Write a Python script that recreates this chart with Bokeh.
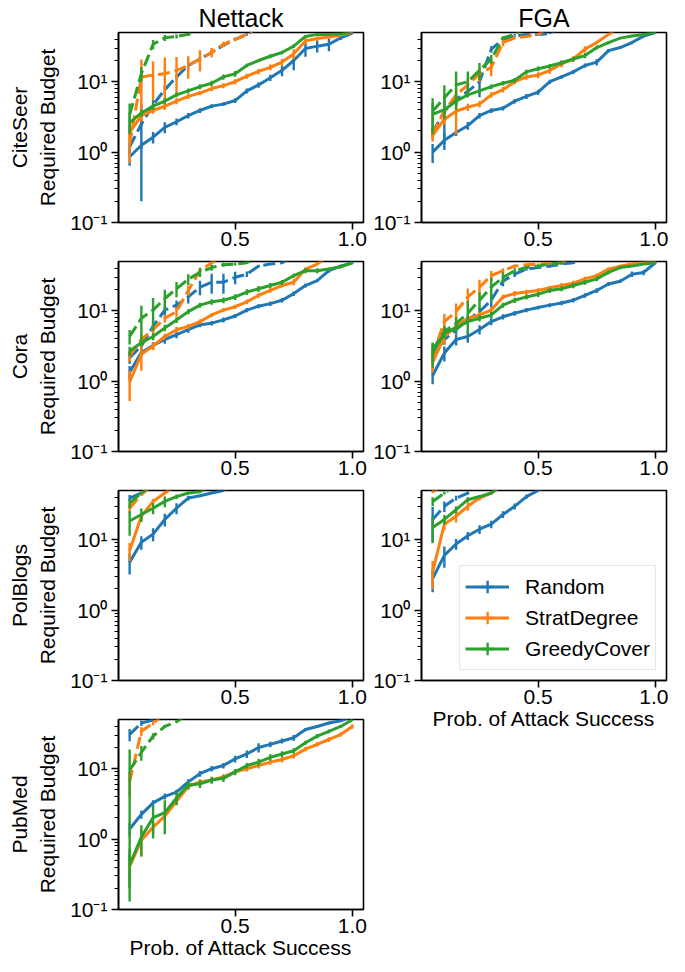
from bokeh.plotting import figure
from bokeh.models import (ColumnDataSource, Range1d, FixedTicker, CustomJSTickFormatter,
                          Title, Legend, LegendItem)
from bokeh.layouts import row, column
from bokeh.embed import file_html
from bokeh.resources import INLINE

# ---------------- data ----------------
x_success = [0.05, 0.10, 0.15, 0.20, 0.25, 0.30, 0.35, 0.40, 0.45, 0.50,
             0.55, 0.60, 0.65, 0.70, 0.75, 0.80, 0.85, 0.90, 0.95, 1.00]
methods = ["Random", "StratDegree", "GreedyCover"]
colors = ["#1f77b4", "#ff7f0e", "#2ca02c"]
datasets = ["CiteSeer", "Cora", "PolBlogs", "PubMed"]
attacks = ["Nettack", "FGA"]
y_tick_values = [0.1, 1, 10]
y_tick_labels = ["10\u207b\u00b9", "10\u2070", "10\u00b9"]
y_minor_ticks = [0.2, 0.3, 0.4, 0.5, 0.6, 0.7, 0.8, 0.9,
                 2, 3, 4, 5, 6, 7, 8, 9, 20, 30, 40]
x_tick_values = [0.5, 1.0]
x_tick_labels = ["0.5", "1.0"]
y_label = "Required Budget"
x_label = "Prob. of Attack Success"

# values above the top of the axis (50) run off the chart
# CiteSeer - Nettack  (solid / dashed, with error half-widths)
cs_nt_rand = [0.86, 1.25, 1.63, 2.25, 2.7, 3.3, 3.9, 4.5, 4.8, 5.4, 7.4, 9.0, 11.4, 14.5, 20.0, 29.6, 32.0, 34.0, 42.0, 49.0]
cs_nt_rand_err = [0.22, 0.15, 0.3, 0.4, 0.3, 0.3, 0.3, 0.3, 0.3, 0.4, 0.6, 0.8, 1.2, 2.5, 5.5, 7.0, 6.0, 7.0, 3.0, 1.0]
cs_nt_rand_d = [1.19, 2.5, 4.7, 7.7, 11.7, 17.0, 21.0, 26.0, 33.0, 40.0, 47.0, 60.0, 60.0, 60.0, 60.0, 60.0, 60.0, 60.0, 60.0, 60.0]
cs_nt_rand_d_err = [0.2, 2.3, 0.8, 1.0, 1.0, 1.5, 2.0, 2.0, 2.0, 2.0, 2.0, 0, 0, 0, 0, 0, 0, 0, 0, 0]
cs_nt_strat = [1.91, 3.3, 3.9, 4.5, 5.3, 6.2, 6.9, 8.0, 8.8, 10.0, 12.0, 14.0, 16.0, 19.0, 25.0, 38.0, 41.0, 43.0, 46.0, 50.0]
cs_nt_strat_err = [0.5, 0.3, 0.4, 0.5, 0.5, 0.5, 0.5, 0.6, 0.7, 0.8, 1.0, 1.2, 1.5, 2.0, 4.0, 4.0, 3.0, 2.0, 1.0, 0.5]
cs_nt_strat_d = [1.3, 11.7, 12.4, 13.0, 14.5, 17.0, 21.0, 26.0, 34.0, 40.0, 47.0, 60.0, 60.0, 60.0, 60.0, 60.0, 60.0, 60.0, 60.0, 60.0]
cs_nt_strat_d_err = [0.6, 9.0, 7.0, 9.0, 8.0, 6.0, 7.0, 4.0, 3.0, 2.0, 1.0, 0, 0, 0, 0, 0, 0, 0, 0, 0]
cs_nt_greedy = [2.6, 3.6, 4.5, 5.3, 6.5, 7.4, 8.5, 9.5, 11.7, 13.0, 17.0, 20.0, 23.0, 26.0, 32.0, 44.0, 47.0, 47.0, 48.0, 50.0]
cs_nt_greedy_err = [0.8, 0.4, 0.5, 0.5, 0.5, 0.6, 0.7, 0.8, 1.0, 1.2, 1.0, 1.0, 1.5, 1.5, 2.0, 2.0, 1.0, 1.0, 1.0, 0.5]
cs_nt_greedy_d = [3.4, 13.0, 34.0, 42.0, 44.0, 47.0, 60.0, 60.0, 60.0, 60.0, 60.0, 60.0, 60.0, 60.0, 60.0, 60.0, 60.0, 60.0, 60.0, 60.0]
cs_nt_greedy_d_err = [1.5, 3.0, 5.0, 4.0, 3.0, 2.0, 0, 0, 0, 0, 0, 0, 0, 0, 0, 0, 0, 0, 0, 0]

# CiteSeer - FGA
cs_fga_rand = [1.0, 1.47, 1.9, 2.37, 3.3, 3.9, 4.2, 5.3, 6.2, 7.1, 10.0, 11.7, 13.8, 17.0, 19.0, 27.6, 30.6, 36.0, 44.5, 50.0]
cs_fga_rand_err = [0.3, 0.4, 0.2, 0.3, 0.3, 0.3, 0.3, 0.4, 0.5, 0.6, 0.7, 0.7, 0.9, 1.2, 2.0, 1.5, 1.5, 2.0, 2.0, 0.5]
cs_fga_rand_d = [1.9, 3.8, 5.6, 7.3, 10.0, 29.0, 40.0, 44.6, 47.0, 47.0, 48.5, 60.0, 60.0, 60.0, 60.0, 60.0, 60.0, 60.0, 60.0, 60.0]
cs_fga_rand_d_err = [0.3, 2.5, 1.0, 1.0, 4.0, 3.0, 2.0, 1.0, 1.0, 1.0, 1.0, 0, 0, 0, 0, 0, 0, 0, 0, 0]
cs_fga_strat = [1.72, 2.94, 3.8, 4.35, 4.8, 6.5, 7.7, 10.0, 11.7, 12.4, 14.5, 18.0, 21.0, 29.0, 36.0, 47.0, 60.0, 60.0, 60.0, 60.0]
cs_fga_strat_err = [0.3, 0.5, 2.0, 0.5, 0.5, 0.6, 0.7, 0.8, 1.0, 1.2, 1.5, 2.0, 2.0, 3.0, 2.0, 1.0, 0, 0, 0, 0]
cs_fga_strat_d = [1.8, 3.8, 6.5, 9.0, 13.0, 16.0, 36.0, 42.0, 44.0, 47.0, 60.0, 60.0, 60.0, 60.0, 60.0, 60.0, 60.0, 60.0, 60.0, 60.0]
cs_fga_strat_d_err = [0.3, 1.0, 1.5, 2.0, 3.0, 4.0, 4.0, 2.0, 1.0, 1.0, 0, 0, 0, 0, 0, 0, 0, 0, 0, 0]
cs_fga_greedy = [3.44, 4.0, 5.3, 6.5, 7.4, 8.5, 9.5, 10.5, 13.8, 15.3, 16.7, 18.6, 21.0, 23.5, 30.6, 36.0, 41.6, 44.6, 47.0, 50.0]
cs_fga_greedy_err = [1.5, 0.5, 0.5, 0.5, 0.6, 0.6, 0.7, 0.8, 1.0, 1.2, 1.2, 1.4, 1.5, 2.0, 2.0, 2.0, 1.5, 1.0, 1.0, 0.5]
cs_fga_greedy_d = [3.8, 5.9, 9.0, 10.0, 14.5, 21.0, 42.0, 47.0, 60.0, 60.0, 60.0, 60.0, 60.0, 60.0, 60.0, 60.0, 60.0, 60.0, 60.0, 60.0]
cs_fga_greedy_d_err = [2.0, 3.0, 5.0, 4.0, 4.0, 3.0, 2.0, 1.0, 0, 0, 0, 0, 0, 0, 0, 0, 0, 0, 0, 0]

# Cora - Nettack
co_nt_rand = [1.34, 2.54, 3.2, 3.9, 4.57, 5.37, 6.3, 6.65, 7.4, 8.4, 10.2, 11.6, 12.6, 14.1, 17.5, 22.8, 26.8, 37.0, 43.0, 48.0]
co_nt_rand_err = [0.3, 0.3, 0.4, 0.5, 0.5, 0.5, 0.5, 0.5, 0.6, 0.6, 0.7, 0.8, 0.9, 1.0, 1.3, 1.5, 1.5, 2.0, 2.0, 1.0]
co_nt_rand_d = [2.16, 3.15, 6.0, 10.2, 12.0, 15.7, 21.6, 25.4, 25.4, 29.8, 33.0, 43.0, 46.0, 48.0, 60.0, 60.0, 60.0, 60.0, 60.0, 60.0]
co_nt_rand_d_err = [0.4, 0.6, 1.0, 1.5, 2.0, 3.0, 5.0, 8.0, 8.0, 6.0, 3.0, 2.0, 1.0, 1.0, 0, 0, 0, 0, 0, 0]
co_nt_strat = [0.97, 2.4, 3.15, 4.3, 5.37, 6.0, 7.0, 8.7, 10.2, 11.4, 13.4, 16.5, 19.4, 22.8, 25.4, 39.0, 46.0, 60.0, 60.0, 60.0]
co_nt_strat_err = [0.45, 1.0, 0.4, 0.4, 0.5, 0.5, 0.5, 0.6, 0.7, 0.8, 1.0, 1.2, 1.4, 1.5, 2.5, 2.0, 1.0, 0, 0, 0]
co_nt_strat_d = [2.28, 3.9, 5.4, 7.8, 9.7, 19.4, 37.0, 48.0, 60.0, 60.0, 60.0, 60.0, 60.0, 60.0, 60.0, 60.0, 60.0, 60.0, 60.0, 60.0]
co_nt_strat_d_err = [0.4, 0.6, 0.8, 1.0, 1.5, 3.0, 4.0, 2.0, 0, 0, 0, 0, 0, 0, 0, 0, 0, 0, 0, 0]
co_nt_greedy = [2.68, 3.5, 4.3, 5.7, 7.4, 9.7, 12.0, 13.4, 14.1, 15.7, 18.4, 20.5, 22.8, 25.4, 31.5, 37.0, 37.0, 39.0, 42.0, 48.0]
co_nt_greedy_err = [0.4, 0.4, 0.5, 0.6, 0.7, 0.8, 1.0, 1.2, 1.3, 1.5, 1.7, 2.0, 2.0, 2.0, 2.0, 3.0, 3.0, 2.0, 2.0, 1.0]
co_nt_greedy_d = [4.3, 7.8, 10.2, 14.9, 20.5, 28.0, 35.0, 41.0, 45.0, 46.0, 48.0, 60.0, 60.0, 60.0, 60.0, 60.0, 60.0, 60.0, 60.0, 60.0]
co_nt_greedy_d_err = [1.0, 4.0, 5.0, 5.0, 5.0, 5.0, 5.0, 4.0, 3.0, 2.0, 1.0, 0, 0, 0, 0, 0, 0, 0, 0, 0]

# Cora - FGA
co_fga_rand = [1.2, 2.5, 3.9, 4.3, 5.4, 7.0, 8.2, 9.2, 10.2, 11.1, 12.0, 12.9, 14.1, 16.5, 19.4, 24.0, 26.2, 33.0, 35.0, 48.0]
co_fga_rand_err = [0.3, 0.6, 0.7, 0.8, 0.8, 0.8, 0.7, 0.7, 0.7, 0.7, 0.8, 0.9, 1.0, 1.2, 1.5, 1.5, 1.5, 3.0, 3.0, 1.0]
co_fga_rand_d = [2.05, 3.9, 5.4, 7.4, 9.7, 14.1, 26.3, 33.0, 39.0, 41.0, 43.0, 46.0, 48.0, 60.0, 60.0, 60.0, 60.0, 60.0, 60.0, 60.0]
co_fga_rand_d_err = [0.3, 0.6, 0.8, 1.0, 1.5, 3.0, 4.0, 3.0, 2.0, 2.0, 2.0, 1.0, 1.0, 0, 0, 0, 0, 0, 0, 0]
co_fga_strat = [1.84, 4.3, 6.0, 7.8, 8.7, 10.2, 15.7, 17.5, 18.4, 19.4, 21.2, 22.8, 24.6, 28.3, 31.5, 39.0, 43.0, 46.0, 48.0, 50.0]
co_fga_strat_err = [0.5, 1.0, 0.8, 0.8, 0.8, 1.0, 1.2, 1.5, 1.5, 1.5, 1.5, 2.0, 2.0, 2.0, 2.0, 2.0, 2.0, 1.0, 1.0, 0.5]
co_fga_strat_d = [2.3, 7.0, 9.7, 15.7, 21.6, 31.5, 37.0, 43.0, 45.0, 46.0, 47.0, 48.0, 60.0, 60.0, 60.0, 60.0, 60.0, 60.0, 60.0, 60.0]
co_fga_strat_d_err = [0.5, 2.0, 3.0, 5.0, 6.0, 5.0, 3.0, 2.0, 1.0, 1.0, 1.0, 1.0, 0, 0, 0, 0, 0, 0, 0, 0]
co_fga_greedy = [2.54, 4.8, 5.7, 7.0, 7.8, 8.7, 12.0, 14.1, 15.7, 17.1, 19.4, 20.5, 22.8, 25.4, 28.3, 35.0, 41.0, 43.0, 46.0, 48.0]
co_fga_greedy_err = [1.0, 0.8, 0.8, 0.8, 0.8, 0.9, 1.0, 1.2, 1.3, 1.4, 1.5, 1.6, 2.0, 2.0, 2.0, 2.0, 2.0, 1.0, 1.0, 1.0]
co_fga_greedy_d = [2.8, 5.1, 6.6, 9.2, 14.1, 21.6, 29.8, 37.0, 41.0, 43.0, 46.0, 48.0, 60.0, 60.0, 60.0, 60.0, 60.0, 60.0, 60.0, 60.0]
co_fga_greedy_d_err = [0.6, 1.0, 1.5, 4.5, 4.0, 8.0, 5.0, 3.0, 2.0, 2.0, 1.0, 1.0, 0, 0, 0, 0, 0, 0, 0, 0]

# PolBlogs - Nettack
pb_nt_rand = [4.8, 9.2, 12.0, 19.4, 28.0, 39.0, 42.0, 46.0, 50.0, 60.0, 60.0, 60.0, 60.0, 60.0, 60.0, 60.0, 60.0, 60.0, 60.0, 60.0]
pb_nt_rand_err = [1.6, 2.0, 2.5, 4.0, 5.0, 3.0, 2.0, 1.0, 0, 0, 0, 0, 0, 0, 0, 0, 0, 0, 0, 0]
pb_nt_rand_d = [39.0, 46.0, 60.0, 60.0, 60.0, 60.0, 60.0, 60.0, 60.0, 60.0, 60.0, 60.0, 60.0, 60.0, 60.0, 60.0, 60.0, 60.0, 60.0, 60.0]
pb_nt_rand_d_err = [4.0, 2.0, 0, 0, 0, 0, 0, 0, 0, 0, 0, 0, 0, 0, 0, 0, 0, 0, 0, 0]
pb_nt_strat = [7.0, 21.6, 35.0, 46.0, 60.0, 60.0, 60.0, 60.0, 60.0, 60.0, 60.0, 60.0, 60.0, 60.0, 60.0, 60.0, 60.0, 60.0, 60.0, 60.0]
pb_nt_strat_err = [2.0, 3.0, 3.0, 2.0, 0, 0, 0, 0, 0, 0, 0, 0, 0, 0, 0, 0, 0, 0, 0, 0]
pb_nt_strat_d = [28.0, 44.0, 60.0, 60.0, 60.0, 60.0, 60.0, 60.0, 60.0, 60.0, 60.0, 60.0, 60.0, 60.0, 60.0, 60.0, 60.0, 60.0, 60.0, 60.0]
pb_nt_strat_d_err = [4.0, 2.0, 0, 0, 0, 0, 0, 0, 0, 0, 0, 0, 0, 0, 0, 0, 0, 0, 0, 0]
pb_nt_greedy = [18.4, 22.8, 28.0, 35.0, 41.0, 46.0, 48.0, 60.0, 60.0, 60.0, 60.0, 60.0, 60.0, 60.0, 60.0, 60.0, 60.0, 60.0, 60.0, 60.0]
pb_nt_greedy_err = [7.0, 5.0, 5.0, 6.0, 3.0, 2.0, 1.0, 0, 0, 0, 0, 0, 0, 0, 0, 0, 0, 0, 0, 0]
pb_nt_greedy_d = [33.0, 46.0, 60.0, 60.0, 60.0, 60.0, 60.0, 60.0, 60.0, 60.0, 60.0, 60.0, 60.0, 60.0, 60.0, 60.0, 60.0, 60.0, 60.0, 60.0]
pb_nt_greedy_d_err = [5.0, 2.0, 0, 0, 0, 0, 0, 0, 0, 0, 0, 0, 0, 0, 0, 0, 0, 0, 0, 0]

# PolBlogs - FGA
pb_fga_rand = [2.8, 6.0, 8.7, 11.4, 14.1, 16.6, 22.8, 29.8, 41.0, 50.0, 60.0, 60.0, 60.0, 60.0, 60.0, 60.0, 60.0, 60.0, 60.0, 60.0]
pb_fga_rand_err = [1.0, 2.0, 1.5, 1.5, 2.0, 2.0, 2.5, 3.0, 3.0, 0, 0, 0, 0, 0, 0, 0, 0, 0, 0, 0]
pb_fga_rand_d = [19.4, 29.8, 39.0, 46.0, 60.0, 60.0, 60.0, 60.0, 60.0, 60.0, 60.0, 60.0, 60.0, 60.0, 60.0, 60.0, 60.0, 60.0, 60.0, 60.0]
pb_fga_rand_d_err = [10.0, 5.0, 3.0, 2.0, 0, 0, 0, 0, 0, 0, 0, 0, 0, 0, 0, 0, 0, 0, 0, 0]
pb_fga_strat = [3.5, 16.6, 21.6, 29.8, 39.0, 46.0, 60.0, 60.0, 60.0, 60.0, 60.0, 60.0, 60.0, 60.0, 60.0, 60.0, 60.0, 60.0, 60.0, 60.0]
pb_fga_strat_err = [1.5, 3.0, 4.0, 4.0, 3.0, 2.0, 0, 0, 0, 0, 0, 0, 0, 0, 0, 0, 0, 0, 0, 0]
pb_fga_strat_d = [48.0, 60.0, 60.0, 60.0, 60.0, 60.0, 60.0, 60.0, 60.0, 60.0, 60.0, 60.0, 60.0, 60.0, 60.0, 60.0, 60.0, 60.0, 60.0, 60.0]
pb_fga_strat_d_err = [2.0, 0, 0, 0, 0, 0, 0, 0, 0, 0, 0, 0, 0, 0, 0, 0, 0, 0, 0, 0]
pb_fga_greedy = [14.9, 19.4, 26.8, 37.0, 41.0, 46.0, 60.0, 60.0, 60.0, 60.0, 60.0, 60.0, 60.0, 60.0, 60.0, 60.0, 60.0, 60.0, 60.0, 60.0]
pb_fga_greedy_err = [6.0, 3.0, 3.0, 3.0, 2.0, 2.0, 0, 0, 0, 0, 0, 0, 0, 0, 0, 0, 0, 0, 0, 0]
pb_fga_greedy_d = [35.0, 46.0, 60.0, 60.0, 60.0, 60.0, 60.0, 60.0, 60.0, 60.0, 60.0, 60.0, 60.0, 60.0, 60.0, 60.0, 60.0, 60.0, 60.0, 60.0]
pb_fga_greedy_d_err = [5.0, 2.0, 0, 0, 0, 0, 0, 0, 0, 0, 0, 0, 0, 0, 0, 0, 0, 0, 0, 0]

# PubMed - Nettack
pm_nt_rand = [1.39, 2.25, 3.27, 4.04, 4.64, 6.5, 8.5, 10.0, 11.1, 13.8, 16.2, 20.0, 22.2, 24.8, 27.5, 36.0, 39.8, 44.5, 48.0, 55.0]
pm_nt_rand_err = [0.3, 0.3, 0.3, 0.4, 0.4, 0.6, 0.8, 0.9, 1.0, 1.5, 2.0, 3.0, 2.0, 2.0, 2.5, 2.0, 2.0, 2.0, 1.0, 0.5]
pm_nt_rand_d = [30.6, 44.5, 49.0, 60.0, 60.0, 60.0, 60.0, 60.0, 60.0, 60.0, 60.0, 60.0, 60.0, 60.0, 60.0, 60.0, 60.0, 60.0, 60.0, 60.0]
pm_nt_rand_d_err = [6.0, 4.0, 1.0, 0, 0, 0, 0, 0, 0, 0, 0, 0, 0, 0, 0, 0, 0, 0, 0, 0]
pm_nt_strat = [0.41, 0.96, 1.47, 2.13, 3.44, 5.56, 6.5, 6.9, 7.66, 9.0, 10.0, 11.1, 12.4, 13.5, 15.3, 19.0, 22.2, 26.0, 30.6, 39.8]
pm_nt_strat_err = [0.2, 0.4, 0.3, 0.3, 0.4, 0.5, 0.6, 0.6, 0.7, 0.8, 0.9, 1.0, 1.0, 1.2, 1.3, 1.5, 1.5, 2.0, 2.0, 3.0]
pm_nt_strat_d = [6.5, 34.0, 44.5, 60.0, 60.0, 60.0, 60.0, 60.0, 60.0, 60.0, 60.0, 60.0, 60.0, 60.0, 60.0, 60.0, 60.0, 60.0, 60.0, 60.0]
pm_nt_strat_d_err = [2.5, 5.0, 3.0, 0, 0, 0, 0, 0, 0, 0, 0, 0, 0, 0, 0, 0, 0, 0, 0, 0]
pm_nt_greedy = [0.43, 1.07, 2.02, 2.37, 3.83, 5.87, 6.1, 6.9, 7.3, 9.0, 11.1, 12.4, 14.5, 16.2, 18.0, 23.4, 29.0, 34.0, 39.8, 49.5]
pm_nt_greedy_err = [0.3, 0.5, 1.0, 1.2, 0.8, 0.8, 0.8, 0.8, 0.8, 0.9, 1.0, 1.5, 1.5, 1.5, 1.5, 1.5, 2.0, 2.0, 2.0, 1.0]
pm_nt_greedy_d = [9.5, 17.0, 29.0, 39.8, 46.5, 60.0, 60.0, 60.0, 60.0, 60.0, 60.0, 60.0, 60.0, 60.0, 60.0, 60.0, 60.0, 60.0, 60.0, 60.0]
pm_nt_greedy_d_err = [9.3, 4.0, 3.0, 2.0, 1.0, 0, 0, 0, 0, 0, 0, 0, 0, 0, 0, 0, 0, 0, 0, 0]

panels = {
    ("CiteSeer", "Nettack"): [(cs_nt_rand, cs_nt_rand_err, cs_nt_rand_d, cs_nt_rand_d_err),
                              (cs_nt_strat, cs_nt_strat_err, cs_nt_strat_d, cs_nt_strat_d_err),
                              (cs_nt_greedy, cs_nt_greedy_err, cs_nt_greedy_d, cs_nt_greedy_d_err)],
    ("CiteSeer", "FGA"): [(cs_fga_rand, cs_fga_rand_err, cs_fga_rand_d, cs_fga_rand_d_err),
                          (cs_fga_strat, cs_fga_strat_err, cs_fga_strat_d, cs_fga_strat_d_err),
                          (cs_fga_greedy, cs_fga_greedy_err, cs_fga_greedy_d, cs_fga_greedy_d_err)],
    ("Cora", "Nettack"): [(co_nt_rand, co_nt_rand_err, co_nt_rand_d, co_nt_rand_d_err),
                          (co_nt_strat, co_nt_strat_err, co_nt_strat_d, co_nt_strat_d_err),
                          (co_nt_greedy, co_nt_greedy_err, co_nt_greedy_d, co_nt_greedy_d_err)],
    ("Cora", "FGA"): [(co_fga_rand, co_fga_rand_err, co_fga_rand_d, co_fga_rand_d_err),
                      (co_fga_strat, co_fga_strat_err, co_fga_strat_d, co_fga_strat_d_err),
                      (co_fga_greedy, co_fga_greedy_err, co_fga_greedy_d, co_fga_greedy_d_err)],
    ("PolBlogs", "Nettack"): [(pb_nt_rand, pb_nt_rand_err, pb_nt_rand_d, pb_nt_rand_d_err),
                              (pb_nt_strat, pb_nt_strat_err, pb_nt_strat_d, pb_nt_strat_d_err),
                              (pb_nt_greedy, pb_nt_greedy_err, pb_nt_greedy_d, pb_nt_greedy_d_err)],
    ("PolBlogs", "FGA"): [(pb_fga_rand, pb_fga_rand_err, pb_fga_rand_d, pb_fga_rand_d_err),
                          (pb_fga_strat, pb_fga_strat_err, pb_fga_strat_d, pb_fga_strat_d_err),
                          (pb_fga_greedy, pb_fga_greedy_err, pb_fga_greedy_d, pb_fga_greedy_d_err)],
    ("PubMed", "Nettack"): [(pm_nt_rand, pm_nt_rand_err, pm_nt_rand_d, pm_nt_rand_d_err),
                            (pm_nt_strat, pm_nt_strat_err, pm_nt_strat_d, pm_nt_strat_d_err),
                            (pm_nt_greedy, pm_nt_greedy_err, pm_nt_greedy_d, pm_nt_greedy_d_err)],
}

# ---------------- styling / layout ----------------
FONT = "Liberation Sans"
LABEL_SIZE = "21px"
TITLE_SIZE = "25px"
FW = 245
FH = 190
LEFT1, RIGHT1, LEFT2, RIGHT2 = 118, 4, 54, 2
TOP_FIRST, TOP, BOT, BOT_LABEL = 25, 2, 37, 50

y_fmt_code = """
let best = -1, bd = 1e9;
for (let i = 0; i < vals.length; i++) {
  const d = Math.abs(Math.log(vals[i]) - Math.log(tick));
  if (d < bd) { bd = d; best = i; }
}
return bd < 1e-6 ? labs[best] : "";
"""
x_fmt_code = """
let best = -1, bd = 1e9;
for (let i = 0; i < vals.length; i++) {
  const d = Math.abs(vals[i] - tick);
  if (d < bd) { bd = d; best = i; }
}
return bd < 1e-6 ? labs[best] : "";
"""


def add_series(p, y, err, color, dash):
    lo = [max(v - e, 1e-3) for v, e in zip(y, err)]
    hi = [v + e for v, e in zip(y, err)]
    src = ColumnDataSource(dict(x=x_success, y=y, lo=lo, hi=hi))
    r = p.line("x", "y", source=src, line_color=color, line_width=3, line_dash=dash)
    p.segment(x0="x", y0="lo", x1="x", y1="hi", source=src, line_color=color, line_width=2.4)
    return r, src


def make_panel(dataset, attack, col_idx, row_idx, with_xlabel, legend=False):
    left = LEFT1 if col_idx == 0 else LEFT2
    right = RIGHT1 if col_idx == 0 else RIGHT2
    top = TOP_FIRST if row_idx == 0 else TOP
    bottom = BOT_LABEL if with_xlabel else BOT
    kw = {}
    if row_idx == 0:
        kw["title"] = attack
    p = figure(frame_width=FW, frame_height=FH,
               x_range=Range1d(0.0025, 1.0475), y_range=Range1d(0.1, 50),
               y_axis_type="log", output_backend="svg", toolbar_location=None, tools="",
               min_border_left=left, min_border_right=right,
               min_border_top=top, min_border_bottom=bottom, **kw)
    if row_idx == 0:
        p.title.align = "center"
        p.title.text_font = FONT
        p.title.text_font_size = TITLE_SIZE
        p.title.text_font_style = "normal"
        p.title.text_color = "black"
        p.title.standoff = 2
    p.background_fill_color = "white"
    p.border_fill_color = "white"
    p.outline_line_color = "black"
    p.outline_line_width = 1.6
    p.xgrid.visible = False
    p.ygrid.visible = False

    p.xaxis.ticker = FixedTicker(ticks=x_tick_values, minor_ticks=[])
    p.xaxis.formatter = CustomJSTickFormatter(args=dict(vals=x_tick_values, labs=x_tick_labels), code=x_fmt_code)
    p.yaxis.ticker = FixedTicker(ticks=y_tick_values, minor_ticks=y_minor_ticks)
    p.yaxis.formatter = CustomJSTickFormatter(args=dict(vals=y_tick_values, labs=y_tick_labels), code=y_fmt_code)
    for ax in (p.xaxis, p.yaxis):
        ax.axis_line_color = "black"
        ax.axis_line_width = 1.6
        ax.major_tick_line_color = "black"
        ax.major_tick_line_width = 1.6
        ax.major_tick_out = 7
        ax.major_tick_in = 0
        ax.minor_tick_line_color = "black"
        ax.minor_tick_line_width = 1.2
        ax.minor_tick_out = 4
        ax.minor_tick_in = 0
        ax.major_label_text_font = FONT
        ax.major_label_text_font_size = LABEL_SIZE
        ax.major_label_text_color = "black"
        ax.axis_label_text_font = FONT
        ax.axis_label_text_font_size = LABEL_SIZE
        ax.axis_label_text_font_style = "normal"
        ax.axis_label_text_color = "black"
    p.yaxis.major_label_standoff = 4
    p.xaxis.major_label_standoff = 2
    if col_idx == 0:
        p.yaxis.axis_label = y_label
        p.yaxis.axis_label_standoff = 8
        p.add_layout(Title(text=dataset, align="center", text_font=FONT,
                           text_font_size=LABEL_SIZE, text_font_style="normal",
                           text_color="black", standoff=5), "left")
    if with_xlabel:
        p.xaxis.axis_label = x_label
        p.xaxis.axis_label_standoff = 0

    firsts = []
    for (y, e, yd, ed), color in zip(panels[(dataset, attack)], colors):
        r, src = add_series(p, y, e, color, "solid")
        add_series(p, yd, ed, color, "12 5")
        firsts.append((r, src))

    if legend:
        items = []
        for name, color, (r, src) in zip(methods, colors, firsts):
            # zero-size markers: invisible in the plot, drawn as the error-bar cross in the legend
            mk = p.scatter("x", "y", source=src, marker="cross", size=0,
                           line_color=color, line_width=2.4)
            items.append(LegendItem(label=name, renderers=[r, mk]))
        lg = Legend(items=items, location="bottom_right", margin=10, padding=5, spacing=0,
                    glyph_width=44, glyph_height=31, label_standoff=16,
                    label_text_font=FONT, label_text_font_size=LABEL_SIZE,
                    label_text_color="black",
                    border_line_color="#cccccc", border_line_width=1.3,
                    background_fill_color="white", background_fill_alpha=0.8)
        p.add_layout(lg)
    return p


col1 = column(
    make_panel("CiteSeer", "Nettack", 0, 0, False),
    make_panel("Cora", "Nettack", 0, 1, False),
    make_panel("PolBlogs", "Nettack", 0, 2, False),
    make_panel("PubMed", "Nettack", 0, 3, True),
)
col2 = column(
    make_panel("CiteSeer", "FGA", 1, 0, False),
    make_panel("Cora", "FGA", 1, 1, False),
    make_panel("PolBlogs", "FGA", 1, 2, True, legend=True),
)
layout = row(col1, col2)

open("out.html", "w").write(file_html(layout, INLINE))
